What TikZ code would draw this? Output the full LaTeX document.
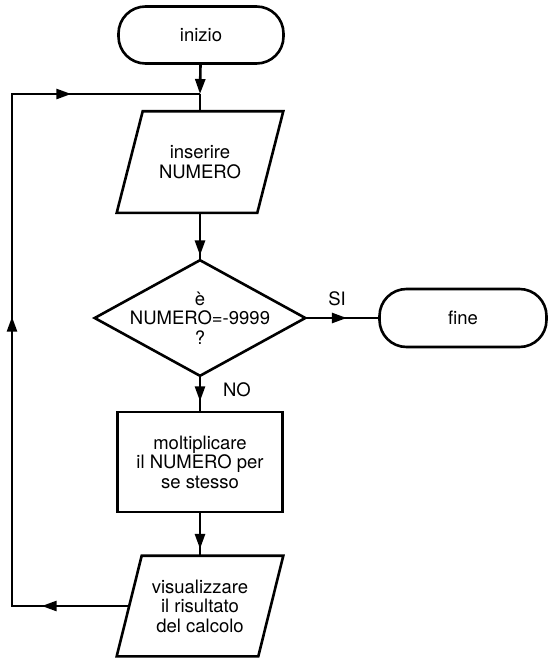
\documentclass[tikz,border=0pt]{standalone}
\usepackage{fontspec}
\setmainfont{TeX Gyre Heros}
\usetikzlibrary{arrows.meta,decorations.markings}
\begin{document}
\begin{tikzpicture}[x=1pt,y=-1pt,
  line width=2.6pt,
  every node/.style={font=\fontsize{18.5}{19.5}\selectfont, align=center, inner sep=0pt},
  terminal/.style={draw, rounded corners=27pt, minimum width=165pt, minimum height=57pt},
  arrowtip/.style={-{Triangle[length=15pt,width=10pt]}},
  midarrow/.style={postaction={decorate},
    decoration={markings, mark=at position #1 with {\arrow{Triangle[length=15pt,width=10pt]}}}},
  loopmarks/.style={postaction={decorate},
    decoration={markings,
      mark=at position 87.5pt with {\arrow{Triangle[length=15pt,width=10pt]}},
      mark=at position 406.5pt with {\arrow{Triangle[length=15pt,width=10pt]}},
      mark=at position 688.5pt with {\arrow{Triangle[length=15pt,width=10pt]}}}},
]
\useasboundingbox (0,0) rectangle (554,659);

% start
\node[terminal] (inizio) at (201,35) {inizio};
\coordinate (j) at (200,94);

% input
\node[minimum width=138pt, minimum height=99pt] (ins) at (200,162) {inserire\\NUMERO};
\draw ([xshift=13pt]ins.north west) -- ([xshift=13pt]ins.north east)
  -- ([xshift=-13pt]ins.south east) -- ([xshift=-13pt]ins.south west) -- cycle;

% decision
\node[minimum width=208pt, minimum height=113pt] (dec) at (200,318) {è\\NUMERO=-9999\\?};
\draw (dec.north) -- (dec.east) -- (dec.south) -- (dec.west) -- cycle;

% end
\node[terminal, minimum width=167pt, minimum height=58pt] (fine) at (463,318) {fine};

% process
\node[draw, minimum width=165pt, minimum height=100pt] (mol) at (200,462)
  {moltiplicare\\il NUMERO per\\se stesso};

% output
\node[minimum width=139pt, minimum height=98pt] (vis) at (200,606)
  {visualizzare\\il risultato\\del calcolo};
\draw ([xshift=12.5pt]vis.north west) -- ([xshift=12.5pt]vis.north east)
  -- ([xshift=-12.5pt]vis.south east) -- ([xshift=-12.5pt]vis.south west) -- cycle;

% loop corners
\coordinate (bl) at (12,606);
\coordinate (tl) at (12,94);

% connectors
\draw[arrowtip] (inizio) -- (j);
\draw (j) -- (ins);
\draw[midarrow=0.9] (ins) -- (dec);
\draw[midarrow=0.73] (dec) -- (mol);
\draw[midarrow=0.84] (mol) -- (vis);
\draw[midarrow=0.57] (dec) -- (fine);
\draw[loopmarks] (vis.west) -- (bl) -- (tl) -- (j);

% branch labels
\node (si) at (337,299) {SI};
\node (no) at (237,390) {NO};
\end{tikzpicture}
\end{document}
